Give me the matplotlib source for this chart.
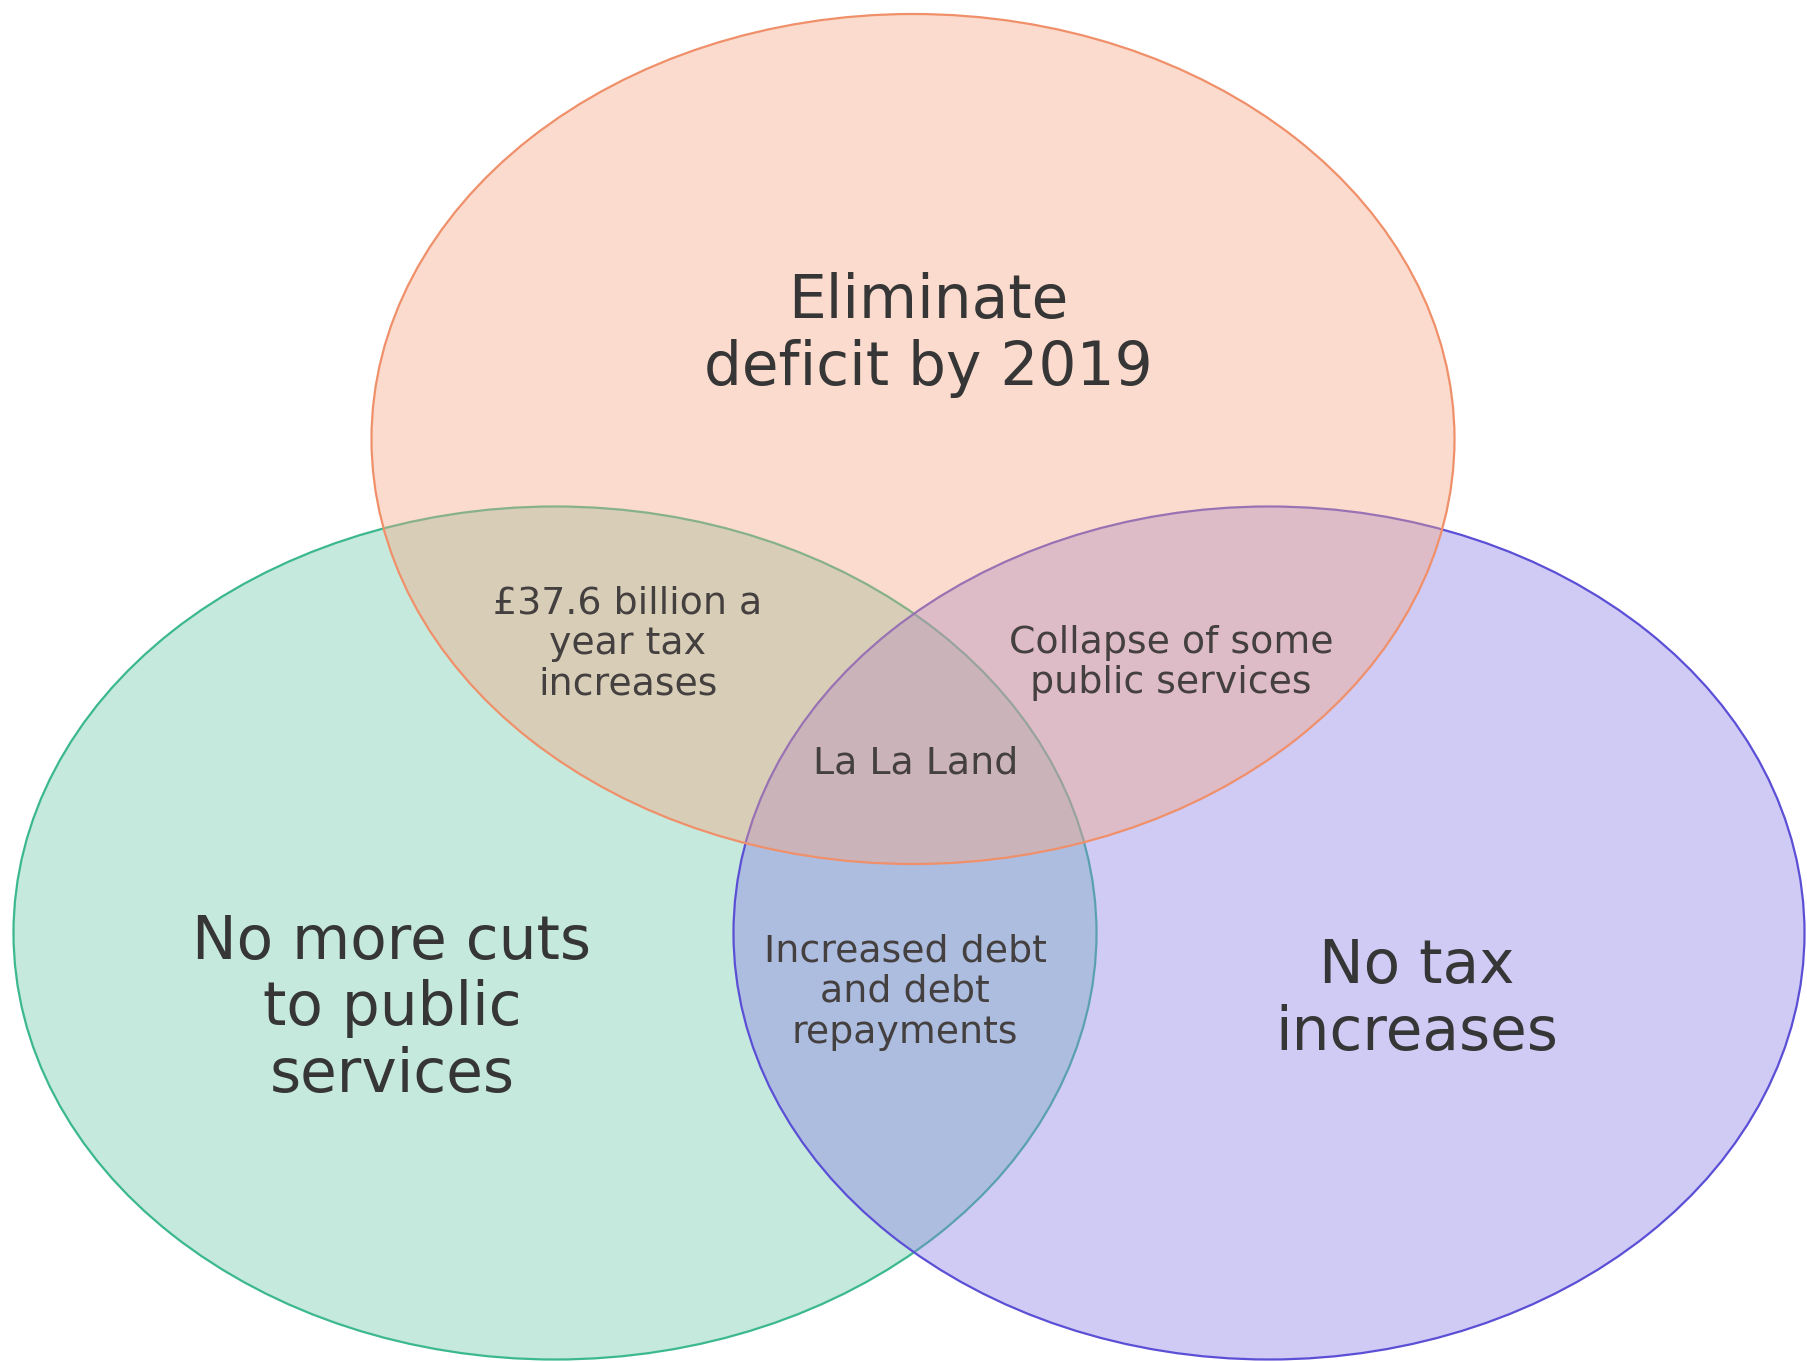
import matplotlib
matplotlib.use("Agg")
import matplotlib.pyplot as plt
from matplotlib.patches import Ellipse
from matplotlib.colors import to_rgba

# -- Content -------------------------------------------------------------------

set_labels = ["No more cuts\nto public\nservices",
              "No tax\nincreases",
              "Eliminate\ndeficit by 2019"]
overlap_labels = ["\u00a337.6 billion a\nyear tax\nincreases",
                  "Collapse of some\npublic services",
                  "Increased debt\nand debt\nrepayments",
                  "La La Land"]

# -- Layout (pixel space, y down) ----------------------------------------------

W, H = 1807, 1362
# drawing order: green (left), purple (right), orange (top)
ell_xy = [(555, 933), (1269, 933), (913, 439)]
ell_w = [1083, 1071, 1083]
ell_h = [853, 853, 850]
ell_face = ["#6ec8ac", "#897de6", "#f7a782"]
ell_edge = ["#3cb88e", "#5b4fd6", "#f0906a"]
FILL_ALPHA = 0.4

set_label_xy = [(392, 1009), (1417, 1000), (928, 335)]
overlap_xy = [(628, 644), (1171, 663), (905, 992), (916, 763)]

fig = plt.figure(figsize=(W / 100, H / 100), dpi=100)
fig.patch.set_facecolor("white")
ax = fig.add_axes([0, 0, 1, 1])
ax.set_xlim(0, W)
ax.set_ylim(H, 0)
ax.axis("off")

for xy, w, h, fc, ec in zip(ell_xy, ell_w, ell_h, ell_face, ell_edge):
    ax.add_patch(Ellipse(xy, w, h, facecolor=to_rgba(fc, FILL_ALPHA),
                         edgecolor=ec, linewidth=1.6, zorder=2))

for txt, (x, y) in zip(set_labels, set_label_xy):
    ax.text(x, y, txt, ha="center", va="center", multialignment="center",
            fontsize=43, color="#363636", family="DejaVu Sans",
            linespacing=1.16, zorder=5)

for txt, (x, y) in zip(overlap_labels, overlap_xy):
    ax.text(x, y, txt, ha="center", va="center", multialignment="center",
            fontsize=27.3, color="#454040", family="DejaVu Sans",
            linespacing=1.17, zorder=5)

fig.savefig("out.png", dpi=100, facecolor="white")
